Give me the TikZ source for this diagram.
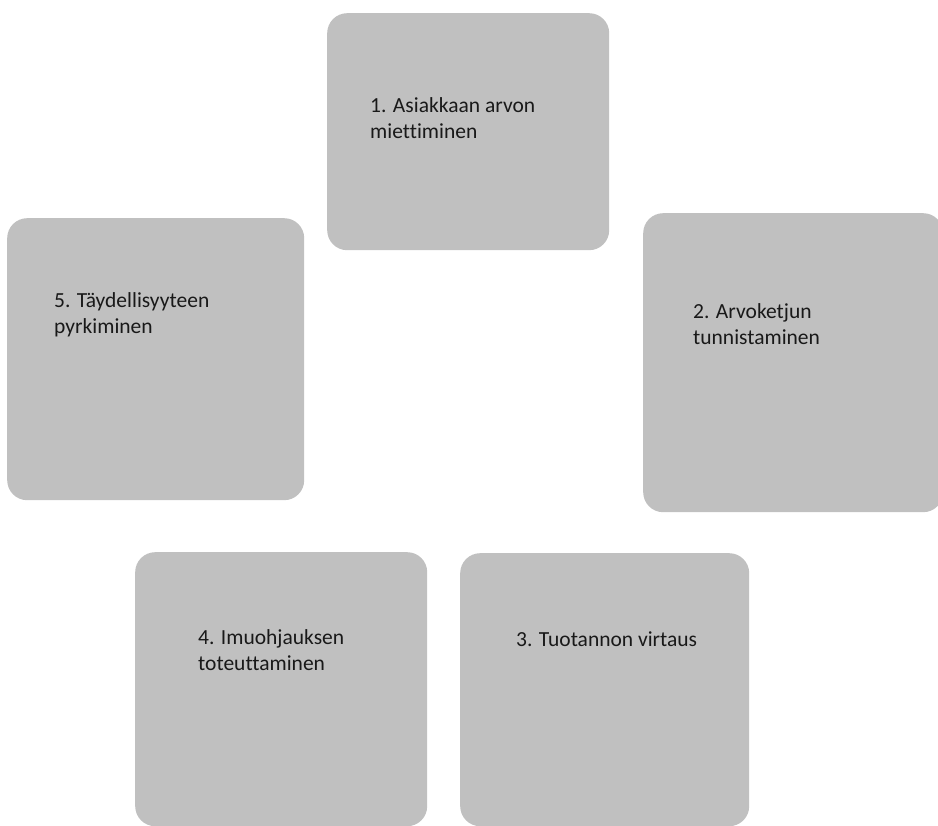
\documentclass[tikz,border=0pt]{standalone}
\usepackage{fontspec}
\setmainfont{Carlito}[Ligatures=NoCommon]
\usepackage{xcolor}
\usepackage{tikz}
\usetikzlibrary{positioning, calc}
\definecolor{cardgrey}{RGB}{192,192,192}
\definecolor{inktext}{RGB}{25,25,25}

\begin{document}
\begin{tikzpicture}[
  x={(1pt,0pt)}, y={(0pt,-1pt)},
  card/.style={fill=cardgrey, rounded corners=20pt, anchor=north west,
               inner sep=0pt, draw=none},
  txt/.style={anchor=base west, align=left, inner sep=0pt, text=inktext,
              font=\fontsize{21.5}{26}\selectfont}
]
\useasboundingbox[fill=white] (0,0) rectangle (938,826);

% ---------- the five cards ----------
\node[card, minimum width=282, minimum height=237] (b1) at (327,13) {};
\node[card, minimum width=300, minimum height=299] (b2) at (643,213) {};
\node[card, minimum width=292, minimum height=274] (b4) at (135,552) {};
\node[card, minimum width=289, minimum height=273] (b3) at (460,553) {};
\node[card, minimum width=297, minimum height=282] (b5) at (7,218) {};

% ---------- texts, top left inside each card (base = last line) ----------
\node[txt] (t1) at ($(b1.north west)+(43,126)$) {1. Asiakkaan arvon\\miettiminen};
\node[txt] (t2) at ($(b2.north west)+(50,132)$) {2. Arvoketjun\\tunnistaminen};
\node[txt] (t3) at ($(b3.north west)+(56,93)$) {3. Tuotannon virtaus};
\node[txt] (t4) at ($(b4.north west)+(63,118)$) {4. Imuohjauksen\\toteuttaminen};
\node[txt] (t5) at ($(b5.north west)+(47,116)$) {5. Täydellisyyteen\\pyrkiminen};

\end{tikzpicture}
\end{document}
